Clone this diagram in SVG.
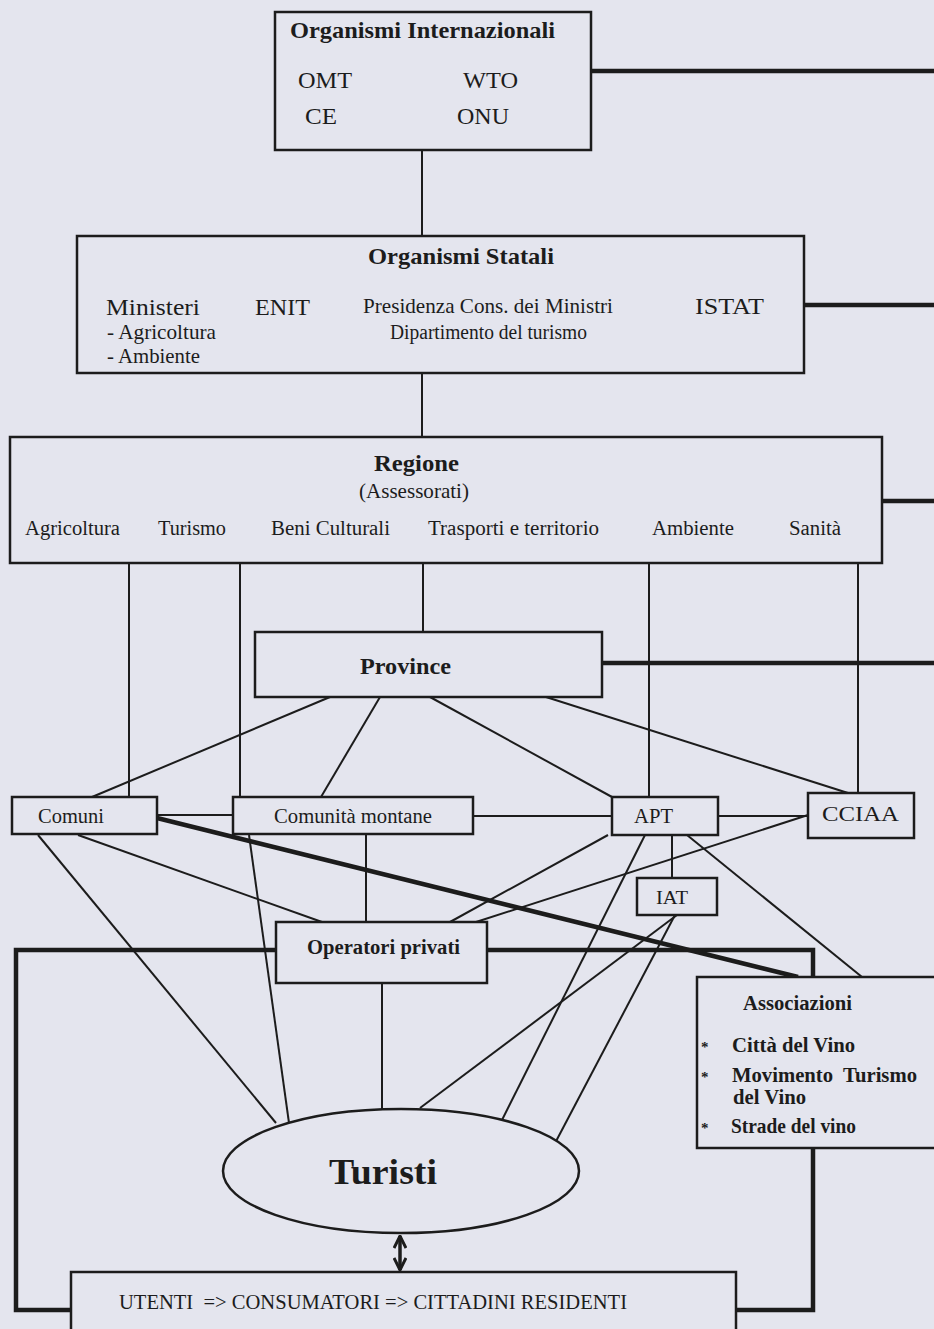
<svg xmlns="http://www.w3.org/2000/svg" width="934" height="1329" viewBox="0 0 934 1329">
<style>
.bg{fill:#e4e5ee}
.box{fill:#e4e5ee;stroke:#1c1c1c;stroke-width:2.5}
.ln{stroke:#1c1c1c;stroke-width:2;fill:none}
.thk{stroke:#1c1c1c;stroke-width:4.5;fill:none}
text{font-family:"Liberation Serif","Times New Roman",serif;fill:#1c1c1c}
.b{font-weight:bold}
</style>
<defs>
<marker id="ah" viewBox="0 0 14 14" refX="13" refY="7" markerWidth="14" markerHeight="14" markerUnits="userSpaceOnUse" orient="auto-start-reverse">
<polyline points="1,1 13,7 1,13" fill="none" stroke="#1c1c1c" stroke-width="3"/>
</marker>
</defs>
<rect class="bg" x="0" y="0" width="934" height="1329"/>

<g id="connectors">
<line class="thk" x1="591" y1="71" x2="934" y2="71"/>
<line class="thk" x1="804" y1="305" x2="934" y2="305"/>
<line class="thk" x1="882" y1="501" x2="934" y2="501"/>
<line class="thk" x1="602" y1="663" x2="934" y2="663"/>
<line class="ln" x1="422" y1="150" x2="422" y2="237"/>
<line class="ln" x1="422" y1="373" x2="422" y2="437"/>
<line class="ln" x1="423" y1="563" x2="423" y2="632"/>
<line class="ln" x1="129" y1="563" x2="129" y2="797"/>
<line class="ln" x1="240" y1="563" x2="240" y2="797"/>
<line class="ln" x1="649" y1="563" x2="649" y2="797"/>
<line class="ln" x1="858" y1="563" x2="858" y2="793"/>
<line class="ln" x1="330" y1="697" x2="92" y2="797"/>
<line class="ln" x1="380" y1="697" x2="321" y2="797"/>
<line class="ln" x1="430" y1="697" x2="612" y2="797"/>
<line class="ln" x1="546" y1="697" x2="848" y2="793"/>
<line class="ln" x1="157" y1="815" x2="233" y2="815"/>
<line class="ln" x1="473" y1="816" x2="612" y2="816"/>
<line class="ln" x1="718" y1="816" x2="808" y2="816"/>
<rect class="thk" x="16" y="950" width="797" height="360"/>
<line class="thk" x1="157" y1="818" x2="798" y2="977" stroke-width="4"/>
<line class="ln" x1="78" y1="835" x2="322" y2="922"/>
<line class="ln" x1="38" y1="835" x2="276" y2="1123"/>
<line class="ln" x1="249" y1="835" x2="289" y2="1123"/>
<line class="ln" x1="366" y1="835" x2="366" y2="922"/>
<line class="ln" x1="382" y1="983" x2="382" y2="1110"/>
<line class="ln" x1="608" y1="835" x2="450" y2="922"/>
<line class="ln" x1="808" y1="815" x2="476" y2="922"/>
<line class="ln" x1="645" y1="835" x2="501" y2="1122"/>
<line class="ln" x1="672" y1="835" x2="672" y2="878"/>
<line class="ln" x1="687" y1="835" x2="862" y2="977"/>
<line class="ln" x1="677" y1="915" x2="420" y2="1108"/>
<line class="ln" x1="675" y1="915" x2="553" y2="1147"/>
<line stroke="#1c1c1c" stroke-width="3.5" x1="400" y1="1236" x2="400" y2="1270" marker-start="url(#ah)" marker-end="url(#ah)"/>
</g>

<g id="organismi-internazionali">
<rect class="box" x="275" y="12" width="316" height="138"/>
<text class="b" x="290" y="38" font-size="24" textLength="265" lengthAdjust="spacingAndGlyphs">Organismi Internazionali</text>
<text x="298" y="88" font-size="24" textLength="54" lengthAdjust="spacingAndGlyphs">OMT</text>
<text x="463" y="88" font-size="24" textLength="55" lengthAdjust="spacingAndGlyphs">WTO</text>
<text x="305" y="124" font-size="24" textLength="32" lengthAdjust="spacingAndGlyphs">CE</text>
<text x="457" y="124" font-size="24" textLength="52" lengthAdjust="spacingAndGlyphs">ONU</text>
</g>

<g id="organismi-statali">
<rect class="box" x="77" y="236" width="727" height="137"/>
<text class="b" x="368" y="264" font-size="24" textLength="186" lengthAdjust="spacingAndGlyphs">Organismi Statali</text>
<text x="106" y="315" font-size="24" textLength="94" lengthAdjust="spacingAndGlyphs">Ministeri</text>
<text x="107" y="339" font-size="21" textLength="109" lengthAdjust="spacingAndGlyphs">- Agricoltura</text>
<text x="107" y="363" font-size="21" textLength="93" lengthAdjust="spacingAndGlyphs">- Ambiente</text>
<text x="255" y="315" font-size="24" textLength="55" lengthAdjust="spacingAndGlyphs">ENIT</text>
<text x="363" y="313" font-size="21" textLength="250" lengthAdjust="spacingAndGlyphs">Presidenza Cons. dei Ministri</text>
<text x="390" y="339" font-size="20" textLength="197" lengthAdjust="spacingAndGlyphs">Dipartimento del turismo</text>
<text x="695" y="314" font-size="24" textLength="69" lengthAdjust="spacingAndGlyphs">ISTAT</text>
</g>

<g id="regione">
<rect class="box" x="10" y="437" width="872" height="126"/>
<text class="b" x="374" y="471" font-size="24" textLength="85" lengthAdjust="spacingAndGlyphs">Regione</text>
<text x="359" y="498" font-size="21" textLength="110" lengthAdjust="spacingAndGlyphs">(Assessorati)</text>
<text x="25" y="535" font-size="20" textLength="95" lengthAdjust="spacingAndGlyphs">Agricoltura</text>
<text x="158" y="535" font-size="20" textLength="68" lengthAdjust="spacingAndGlyphs">Turismo</text>
<text x="271" y="535" font-size="20" textLength="119" lengthAdjust="spacingAndGlyphs">Beni Culturali</text>
<text x="428" y="535" font-size="20" textLength="171" lengthAdjust="spacingAndGlyphs">Trasporti e territorio</text>
<text x="652" y="535" font-size="20" textLength="82" lengthAdjust="spacingAndGlyphs">Ambiente</text>
<text x="789" y="535" font-size="20" textLength="52" lengthAdjust="spacingAndGlyphs">Sanità</text>
</g>

<g id="province">
<rect class="box" x="255" y="632" width="347" height="65"/>
<text class="b" x="360" y="674" font-size="24" textLength="91" lengthAdjust="spacingAndGlyphs">Province</text>
</g>

<g id="comuni">
<rect class="box" x="12" y="797" width="145" height="37"/>
<text x="38" y="823" font-size="20" textLength="66" lengthAdjust="spacingAndGlyphs">Comuni</text>
</g>

<g id="comunita-montane">
<rect class="box" x="233" y="797" width="240" height="37"/>
<text x="274" y="823" font-size="20" textLength="158" lengthAdjust="spacingAndGlyphs">Comunità montane</text>
</g>

<g id="apt">
<rect class="box" x="612" y="797" width="106" height="38"/>
<text x="634" y="823" font-size="20" textLength="39" lengthAdjust="spacingAndGlyphs">APT</text>
</g>

<g id="cciaa">
<rect class="box" x="808" y="793" width="106" height="45"/>
<text x="822" y="821" font-size="22" textLength="77" lengthAdjust="spacingAndGlyphs">CCIAA</text>
</g>

<g id="iat">
<rect class="box" x="637" y="878" width="80" height="37"/>
<text x="656" y="904" font-size="19" textLength="32" lengthAdjust="spacingAndGlyphs">IAT</text>
</g>

<g id="operatori-privati">
<rect class="box" x="276" y="922" width="211" height="61"/>
<text class="b" x="307" y="954" font-size="20" textLength="153" lengthAdjust="spacingAndGlyphs">Operatori privati</text>
</g>

<g id="associazioni">
<rect class="box" x="697" y="977" width="262" height="171"/>
<text class="b" x="743" y="1010" font-size="20" textLength="109" lengthAdjust="spacingAndGlyphs">Associazioni</text>
<text class="b" x="701" y="1052" font-size="15">*</text>
<text class="b" x="732" y="1052" font-size="20" textLength="123" lengthAdjust="spacingAndGlyphs">Città del Vino</text>
<text class="b" x="701" y="1082" font-size="15">*</text>
<text class="b" x="732" y="1082" font-size="20" textLength="185" lengthAdjust="spacingAndGlyphs" xml:space="preserve">Movimento  Turismo</text>
<text class="b" x="733" y="1104" font-size="20" textLength="73" lengthAdjust="spacingAndGlyphs">del Vino</text>
<text class="b" x="701" y="1133" font-size="15">*</text>
<text class="b" x="731" y="1133" font-size="20" textLength="125" lengthAdjust="spacingAndGlyphs">Strade del vino</text>
</g>

<g id="turisti">
<ellipse class="box" cx="401" cy="1171" rx="178" ry="62" stroke-width="2"/>
<text class="b" x="329" y="1184" font-size="36" textLength="108" lengthAdjust="spacingAndGlyphs">Turisti</text>
</g>

<g id="utenti">
<rect class="box" x="71" y="1272" width="665" height="70"/>
<text x="119" y="1309" font-size="20" textLength="508" lengthAdjust="spacingAndGlyphs" xml:space="preserve">UTENTI  =&gt; CONSUMATORI =&gt; CITTADINI RESIDENTI</text>
</g>
</svg>
